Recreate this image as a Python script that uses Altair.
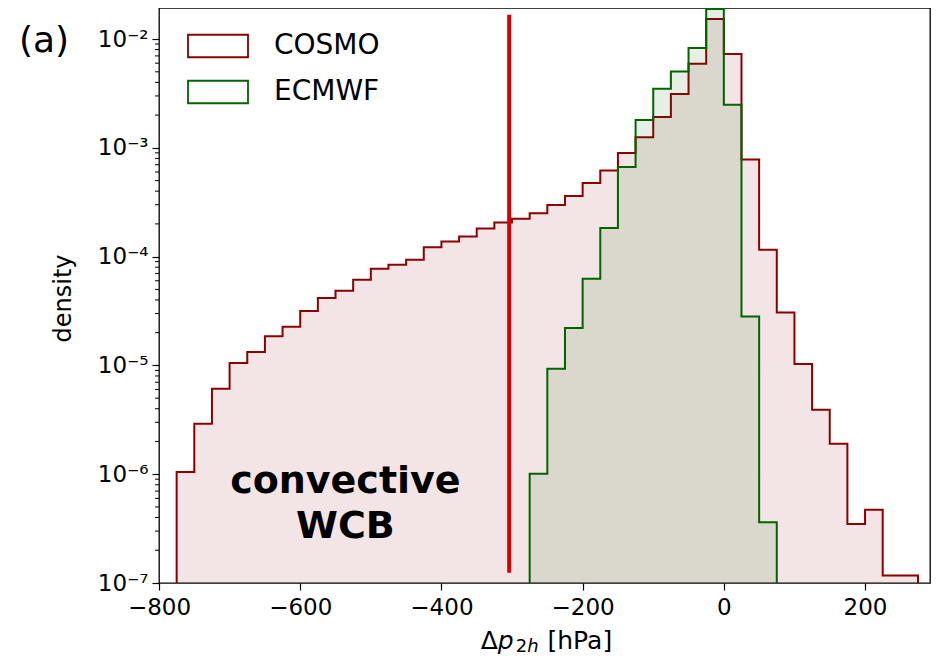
import altair as alt
import pandas as pd

# ---------------- data ----------------
BIN_WIDTH = 25
BASE = 1e-7

series = ["COSMO", "ECMWF"]
series_colors = ["darkred", "darkgreen"]

cosmo_first_edge = -775
cosmo_density = [
    1.05e-6, 2.91e-6, 6.1e-6, 1.05e-5, 1.33e-5, 1.85e-5, 2.27e-5, 3.16e-5, 4.17e-5, 4.86e-5,
    6.14e-5, 7.74e-5, 8.43e-5, 9.38e-5, 1.22e-4, 1.38e-4, 1.53e-4, 1.81e-4, 2.06e-4, 2.23e-4,
    2.51e-4, 2.98e-4, 3.61e-4, 4.74e-4, 6.19e-4, 8.95e-4, 1.25e-3, 1.92e-3, 3.12e-3, 5.93e-3,
    1.53e-2, 7.28e-3, 7.83e-4, 1.16e-4, 3.07e-5, 1.03e-5, 3.92e-6, 1.91e-6, 3.48e-7, 4.72e-7,
    1.17e-7, 1.17e-7,
]

ecmwf_first_edge = -275
ecmwf_density = [
    1.01e-6, 9.33e-6, 2.21e-5, 6.27e-5, 1.83e-4, 6.67e-4, 1.80e-3,
    3.49e-3, 5.04e-3, 8.26e-3, 1.89e-2, 2.49e-3, 2.82e-5, 3.61e-7,
]

x_domain = [-800, 292]
y_domain = [1e-7, 0.0193]
x_ticks = [-800, -600, -400, -200, 0, 200]
y_ticks = [1e-7, 1e-6, 1e-5, 1e-4, 1e-3, 1e-2]
y_minor = [m * 10.0 ** e for e in range(-7, -2) for m in range(2, 10)]

threshold_x = -304
threshold_y = [1.24e-7, 0.0167]

note_x = -536
note_y = 6.76e-7
note_text = "convective\nWCB"

panel_label = "(a)"
y_title = "density"
# x-axis title "Δp_{2h} [hPa]" split into its typographic pieces
x_title_parts = ["Δ", "p", "2", "h", "[hPa]"]

# ---------------- build tables ----------------
def area_table(name, first, dens):
    edges = [first + i * BIN_WIDTH for i in range(len(dens) + 1)]
    return pd.DataFrame({"model": name, "x": edges, "density": list(dens) + [dens[-1]]})


def line_table(name, first, dens):
    edges = [first + i * BIN_WIDTH for i in range(len(dens) + 1)]
    xs = [edges[0]] + edges[:-1] + [edges[-1], edges[-1]]
    ys = [BASE] + list(dens) + [dens[-1], BASE]
    return pd.DataFrame({"model": name, "x": xs, "density": ys, "order": list(range(len(xs)))})


FONT = "DejaVu Sans"
PLOT_W, PLOT_H = 771, 575

xscale = alt.Scale(domain=x_domain, nice=False, zero=False)
yscale = alt.Scale(type="log", domain=y_domain, nice=False)
cscale = alt.Scale(domain=series, range=series_colors)

y_label_expr = (
    "datum.value < 5e-7 ? '10⁻⁷' : datum.value < 5e-6 ? '10⁻⁶' : "
    "datum.value < 5e-5 ? '10⁻⁵' : datum.value < 5e-4 ? '10⁻⁴' : "
    "datum.value < 5e-3 ? '10⁻³' : '10⁻²'"
)

X = alt.X(
    "x:Q",
    scale=xscale,
    title=None,
    axis=alt.Axis(values=x_ticks, tickSize=7, labelFontSize=23, labelPadding=6, labelFlush=False),
)
Y = alt.Y(
    "density:Q",
    scale=yscale,
    title=y_title,
    axis=alt.Axis(
        values=y_ticks, labelExpr=y_label_expr, tickSize=7, labelFontSize=23,
        labelPadding=4, titleFontSize=24, titleFontWeight="normal",
        titleX=-89, titleY=290, titleAlign="center", titleBaseline="alphabetic",
        titleAngle=-90, labelFlush=False,
    ),
)

legend = alt.Legend(
    title=None, orient="none", legendX=43, legendY=22, padding=0,
    symbolType="M-2,-0.75H2V0.75H-2Z", symbolSize=900, symbolStrokeWidth=1.8,
    symbolFillColor="white", labelFontSize=28, labelFont=FONT, labelColor="black",
    labelOffset=40, rowPadding=15, labelLimit=300,
)


def hist_layers(name, color, first, dens):
    area = alt.Chart(area_table(name, first, dens)).mark_area(
        interpolate="step-after", fill=color, fillOpacity=0.1
    ).encode(x=X, y=Y, y2=alt.datum(BASE))
    line = alt.Chart(line_table(name, first, dens)).mark_line(
        interpolate="step-after", strokeWidth=2
    ).encode(
        x=X, y=Y, order="order:Q",
        stroke=alt.Stroke("model:N", scale=cscale, legend=legend),
    )
    return area, line


c_area, c_line = hist_layers("COSMO", series_colors[0], cosmo_first_edge, cosmo_density)
e_area, e_line = hist_layers("ECMWF", series_colors[1], ecmwf_first_edge, ecmwf_density)

minor = alt.Chart(pd.DataFrame({"density": y_minor})).mark_rule(
    color="black", strokeWidth=1
).encode(y=Y, x=alt.value(0), x2=alt.value(-4))

thresh = alt.Chart(
    pd.DataFrame({"x": [threshold_x], "density": [threshold_y[0]], "density2": [threshold_y[1]]})
).mark_rule(color="#d40000", strokeWidth=4).encode(x=X, y=Y, y2="density2:Q")

note = alt.Chart(pd.DataFrame({"x": [note_x], "density": [note_y], "text": [note_text]})).mark_text(
    font=FONT, fontSize=38, fontWeight="bold", align="center", baseline="alphabetic",
    lineBreak="\n", lineHeight=45, color="black",
).encode(x=X, y=Y, text="text:N")

plabel = alt.Chart(pd.DataFrame({"t": [panel_label]})).mark_text(
    font=FONT, fontSize=36, align="center", baseline="alphabetic", color="black"
).encode(x=alt.value(-115), y=alt.value(44), text="t:N")

# ---- x-axis title assembled from pieces (italic p, subscript 2h) ----
MAIN_FS, SUB_FS = 25, 18
ADV = {"Δ": 0.684, "p": 0.635, "2": 0.636, "h": 0.634, " ": 0.318, "[": 0.390,
       "P": 0.603, "a": 0.613, "]": 0.390}
# (style, font size, baseline shift, extra space after)
styles = [("normal", MAIN_FS, 0, 0), ("italic", MAIN_FS, 0, 2), ("normal", SUB_FS, 3, 0),
          ("italic", SUB_FS, 3, 0.318 * MAIN_FS + 1), ("normal", MAIN_FS, 0, 0)]
widths = [sum(ADV[c] for c in part) * st[1] + st[3] for part, st in zip(x_title_parts, styles)]
title_center = 388
title_base = 641
cursor = title_center - sum(widths) / 2
title_layers = []
for part, (style, fs, dy, _), w in zip(x_title_parts, styles, widths):
    title_layers.append(
        alt.Chart(pd.DataFrame({"t": [part]})).mark_text(
            font=FONT, fontSize=fs, fontStyle=style, align="left", baseline="alphabetic",
            color="black",
        ).encode(x=alt.value(cursor), y=alt.value(title_base + dy), text="t:N")
    )
    cursor += w

chart = alt.layer(
    c_area, c_line, e_area, e_line, minor, thresh, note, plabel, *title_layers
).properties(
    width=PLOT_W, height=PLOT_H,
    autosize=alt.AutoSizeParams(type="none"),
    padding={"left": 151, "top": 0, "right": 1, "bottom": 74},
).configure_view(
    stroke="black", strokeWidth=1.3
).configure_axis(
    domain=False, grid=False, tickColor="black", tickWidth=1.2,
    labelColor="black", titleColor="black", labelFont=FONT, titleFont=FONT,
)

chart.save("out.html", embed_options={"renderer": "svg", "actions": False})
